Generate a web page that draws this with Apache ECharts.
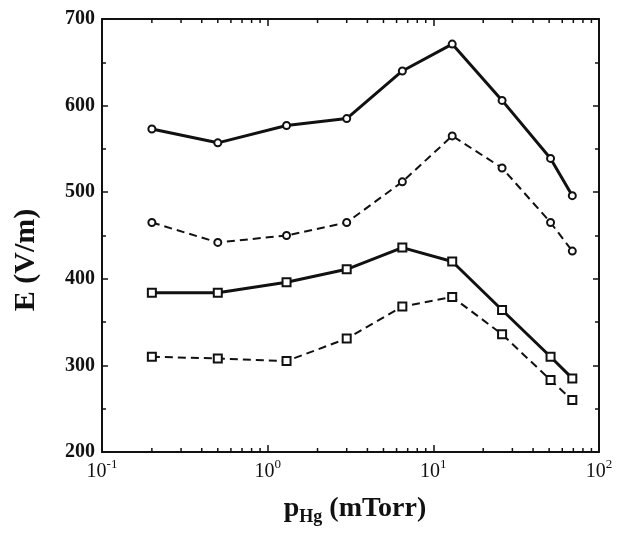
<!DOCTYPE html>
<html><head><meta charset="utf-8">
<script src="https://cdn.jsdelivr.net/npm/echarts@6/dist/echarts.min.js"></script>
<style>html,body{margin:0;padding:0;background:#fff}#c{width:624px;height:536px}</style>
</head><body><div id="c"></div>
<script>
const pressure = [0.2, 0.5, 1.3, 3, 6.5, 13, 26, 51, 69];
const solidCircle = [573, 557, 577, 585, 640, 671, 606, 539, 496];
const dashedCircle = [465, 442, 450, 465, 512, 565, 528, 465, 432];
const solidSquare = [384, 384, 396, 411, 436, 420, 364, 310, 285];
const dashedSquare = [310, 308, 305, 331, 368, 379, 336, 283, 260];
const minorXTicks = [0.2,0.3,0.4,0.5,0.6,0.7,0.8,0.9,2,3,4,5,6,7,8,9,20,30,40,50,60,70,80,90];

const FONT = '"Liberation Serif", "Times New Roman", serif';
const INK = '#111';
const pair = ys => pressure.map((x, i) => [x, ys[i]]);

function line(data, symbol, size, dashed, width) {
  return {
    type: 'line', data: pair(data), symbol: symbol, symbolSize: size,
    lineStyle: { color: INK, width: width, type: dashed ? [8, 5] : 'solid' },
    itemStyle: { color: INK, borderColor: INK, borderWidth: 2 },
    z: 3, animation: false
  };
}

const chart = echarts.init(document.getElementById('c'), null, { renderer: 'canvas' });
chart.setOption({
  backgroundColor: '#fff',
  animation: false,
  grid: { left: 102, right: 25, top: 19, bottom: 84, show: false },
  xAxis: [{
    type: 'log', logBase: 10, min: 0.1, max: 100, position: 'bottom',
    name: '{p|p}{sub|Hg}{t| (mTorr)}', nameLocation: 'middle', nameGap: 40,
    nameTextStyle: {
      padding: [0, 0, 0, 9],
      rich: {
        p: { fontFamily: FONT, fontWeight: 'bold', fontSize: 28, color: INK },
        sub: { fontFamily: FONT, fontWeight: 'bold', fontSize: 18, color: INK, padding: [16, 0, 0, 0] },
        t: { fontFamily: FONT, fontWeight: 'bold', fontSize: 28, color: INK }
      }
    },
    axisLine: { show: true, lineStyle: { color: INK, width: 2 } },
    axisTick: { show: true, inside: true, length: 7, lineStyle: { color: INK, width: 1.5 } },
    splitLine: { show: false },
    axisLabel: {
      margin: 6,
      formatter: v => '{b|10}{s|' + Math.round(Math.log10(v)) + '}',
      rich: {
        b: { fontFamily: FONT, fontSize: 20, color: INK },
        s: { fontFamily: FONT, fontSize: 13, color: INK, padding: [0, 0, 14, 0] }
      }
    }
  }, {
    type: 'log', logBase: 10, min: 0.1, max: 100, position: 'top',
    axisLine: { show: true, lineStyle: { color: INK, width: 2 } },
    axisTick: { show: true, inside: true, length: 7, lineStyle: { color: INK, width: 1.5 } },
    axisLabel: { show: false }, splitLine: { show: false }
  }],
  yAxis: [{
    type: 'value', min: 200, max: 700, interval: 100, position: 'left',
    name: 'E (V/m)', nameLocation: 'middle', nameGap: 61,
    nameTextStyle: { fontFamily: FONT, fontWeight: 'bold', fontSize: 30, color: INK, padding: [0, 49, 0, 0] },
    axisLine: { show: true, lineStyle: { color: INK, width: 2 } },
    axisTick: { show: true, inside: true, length: 6, lineStyle: { color: INK, width: 1.5 } },
    minorTick: { show: true, splitNumber: 2, length: 4, lineStyle: { color: INK, width: 1.5 } },
    splitLine: { show: false },
    axisLabel: { margin: 7, fontFamily: FONT, fontWeight: 'bold', fontSize: 20, color: INK }
  }, {
    type: 'value', min: 200, max: 700, interval: 100, position: 'right',
    axisLine: { show: true, lineStyle: { color: INK, width: 2 } },
    axisTick: { show: true, inside: true, length: 6, lineStyle: { color: INK, width: 1.5 } },
    minorTick: { show: true, splitNumber: 2, length: 4, lineStyle: { color: INK, width: 1.5 } },
    axisLabel: { show: false }, splitLine: { show: false }
  }],
  series: [
    line(solidCircle, 'emptyCircle', 7, false, 3),
    line(dashedCircle, 'emptyCircle', 7, true, 2),
    line(solidSquare, 'emptyRect', 8, false, 3),
    line(dashedSquare, 'emptyRect', 8, true, 2),
    {
      type: 'custom', silent: true, animation: false, clip: false, z: 4,
      data: minorXTicks.map(x => [x, 200]),
      renderItem: function (params, api) {
        const x = api.value(0);
        const b = api.coord([x, 200]);
        const t = api.coord([x, 700]);
        return {
          type: 'group', children: [
            { type: 'line', shape: { x1: b[0], y1: b[1], x2: b[0], y2: b[1] - 4 }, style: { stroke: INK, lineWidth: 1.5 } },
            { type: 'line', shape: { x1: t[0], y1: t[1], x2: t[0], y2: t[1] + 4 }, style: { stroke: INK, lineWidth: 1.5 } }
          ]
        };
      }
    }
  ]
});
</script></body></html>
